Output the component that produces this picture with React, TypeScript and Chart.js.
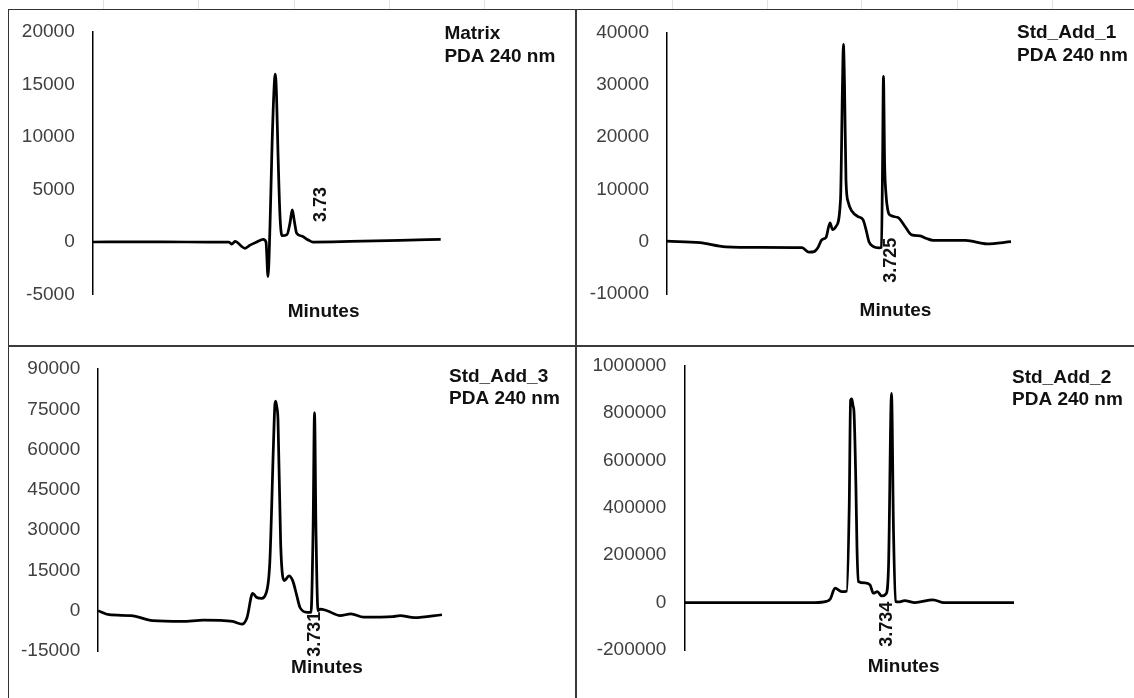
import React, { useEffect, useRef } from "react";
import { Chart, registerables } from "chart.js";
Chart.register(...registerables);

// ---------- DATA ----------
const matrixTime = [0, 0.8, 1.6, 2.319, 2.365, 2.421, 2.591, 2.676, 2.79, 2.902, 2.948, 2.982, 3.016, 3.05, 3.084, 3.106, 3.127, 3.152, 3.186, 3.22, 3.305, 3.356, 3.395, 3.424, 3.47, 3.555, 3.668, 3.748, 4.377, 5.228, 5.92];
const matrixSignal = [0, 20, 0, 0, -200, 50, -600, -300, 0, 250, 0, -3300, 1500, 9000, 14500, 16000, 14000, 8500, 2500, 600, 700, 1800, 3050, 2200, 830, 570, 190, 0, 50, 150, 250];
const matrixTicks = [-5000, 0, 5000, 10000, 15000, 20000];

const add1Time = [0, 0.568, 1.01, 1.6, 2.323, 2.444, 2.53, 2.599, 2.667, 2.736, 2.805, 2.85, 2.908, 2.986, 3.02, 3.036, 3.055, 3.08, 3.12, 3.184, 3.287, 3.373, 3.425, 3.476, 3.545, 3.648, 3.69, 3.71, 3.725, 3.745, 3.769, 3.8, 3.85, 3.975, 4.096, 4.211, 4.354, 4.469, 4.578, 5.14, 5.507, 5.92];
const add1Signal = [100, -200, -1000, -1100, -1150, -2000, -1900, -1100, 400, 800, 3600, 2300, 2900, 8000, 30000, 37700, 30000, 11800, 7500, 5800, 4800, 4200, 2300, 0, -900, -1200, -1100, 15000, 31600, 15000, 9000, 6000, 5000, 4600, 2900, 1300, 1100, 600, 250, 250, -400, 0];
const add1Ticks = [-10000, 0, 10000, 20000, 30000, 40000];

const add3Time = [0, 0.186, 0.565, 0.938, 1.443, 1.815, 2.316, 2.473, 2.562, 2.66, 2.724, 2.817, 2.881, 2.955, 3.018, 3.04, 3.055, 3.075, 3.096, 3.142, 3.206, 3.285, 3.349, 3.413, 3.475, 3.6, 3.664, 3.7, 3.725, 3.75, 3.785, 3.819, 3.94, 4.164, 4.353, 4.57, 5.071, 5.197, 5.446, 5.92];
const add3Signal = [0, -1500, -1800, -3700, -4000, -3500, -4000, -5000, -2600, 6500, 5000, 4600, 6000, 18000, 62000, 76000, 78000, 76000, 71000, 24800, 11200, 13000, 11200, 6200, 1200, -600, -600, 30000, 73800, 30000, 0, 600, 0, -1800, -1200, -2400, -2200, -1800, -2600, -1500];
const add3Ticks = [-15000, 0, 15000, 30000, 45000, 60000, 75000, 90000];

const add2Time = [0, 1.0, 2.0, 2.339, 2.55, 2.62, 2.705, 2.825, 2.915, 2.96, 2.985, 3.005, 3.03, 3.046, 3.08, 3.1, 3.123, 3.244, 3.334, 3.393, 3.465, 3.544, 3.621, 3.666, 3.72, 3.756, 3.792, 3.85, 3.953, 4.142, 4.465, 4.663, 5.92];
const add2Signal = [0, 0, 0, 0, 5000, 15000, 61000, 46000, 48000, 400000, 855000, 860000, 830000, 806000, 500000, 230000, 89000, 83000, 74700, 40000, 46000, 28000, 37000, 150000, 883000, 300000, 5000, 3000, 8000, 0, 12000, 0, 0];
const add2Ticks = [-200000, 0, 200000, 400000, 600000, 800000, 1000000];

const titleMatrix = ["Matrix", "PDA 240 nm"];
const titleAdd1 = ["Std_Add_1", "PDA 240 nm"];
const titleAdd3 = ["Std_Add_3", "PDA 240 nm"];
const titleAdd2 = ["Std_Add_2", "PDA 240 nm"];
const xAxisTitle = "Minutes";

// ---------- LAYOUT ----------
const FONT = '"Liberation Sans", Arial, Helvetica, sans-serif';

type Ann = { x: number; y: number; text: string; dx: number; dy: number; align: CanvasTextAlign };
type Panel = {
  left: number; top: number; w: number; h: number;
  area: { left: number; top: number; right: number; bottom: number };
  time: number[]; signal: number[]; ticks: number[];
  title: string[]; titleX: number; titleY: number[];
  xTitleX: number; xTitleY: number;
  ann: Ann;
};

const panels: Panel[] = [
  {
    left: 9, top: 10, w: 566, h: 335,
    area: { left: 92.7, top: 32, right: 440.7, bottom: 294.5 },
    time: matrixTime, signal: matrixSignal, ticks: matrixTicks,
    title: titleMatrix, titleX: 444.4, titleY: [33.3, 56.7],
    xTitleX: 323.6, xTitleY: 311.7,
    ann: { x: 3.73, y: 0, text: "3.73", dx: 9, dy: -20, align: "left" },
  },
  {
    left: 577, top: 10, w: 557, h: 335,
    area: { left: 667, top: 32.3, right: 1011, bottom: 294 },
    time: add1Time, signal: add1Signal, ticks: add1Ticks,
    title: titleAdd1, titleX: 1017, titleY: [33, 56],
    xTitleX: 895.5, xTitleY: 311,
    ann: { x: 3.725, y: 0, text: "3.725", dx: 7.5, dy: -4, align: "right" },
  },
  {
    left: 9, top: 347, w: 566, h: 351,
    area: { left: 98.2, top: 369, right: 442, bottom: 651 },
    time: add3Time, signal: add3Signal, ticks: add3Ticks,
    title: titleAdd3, titleX: 449, titleY: [376.7, 398.3],
    xTitleX: 327, xTitleY: 668,
    ann: { x: 3.731, y: 0, text: "3.731", dx: 0, dy: 1, align: "right" },
  },
  {
    left: 577, top: 347, w: 557, h: 351,
    area: { left: 684.4, top: 365.7, right: 1014, bottom: 650 },
    time: add2Time, signal: add2Signal, ticks: add2Ticks,
    title: titleAdd2, titleX: 1012, titleY: [377.7, 400],
    xTitleX: 903.6, xTitleY: 666.7,
    ann: { x: 3.734, y: 0, text: "3.734", dx: -5, dy: -1, align: "right" },
  },
];

function ChromPanel({ p }: { p: Panel }) {
  const ref = useRef<HTMLCanvasElement>(null);
  useEffect(() => {
    const canvas = ref.current;
    if (!canvas) return;
    const aLeft = p.area.left - p.left;
    const aTop = p.area.top - p.top;
    const aRight = p.area.right - p.left;
    const aBottom = p.area.bottom - p.top;

    const textPlugin = {
      id: "panelText",
      afterDatasetsDraw(chart: any) {
        const ctx = chart.ctx as CanvasRenderingContext2D;
        ctx.save();
        ctx.fillStyle = "#111111";
        ctx.font = `bold 19px ${FONT}`;
        ctx.textAlign = "left";
        ctx.textBaseline = "middle";
        p.title.forEach((line, i) => {
          ctx.fillText(line, p.titleX - p.left, p.titleY[i] - p.top);
        });
        ctx.textAlign = "center";
        ctx.fillText(xAxisTitle, p.xTitleX - p.left, p.xTitleY - p.top);

        const xs = chart.scales.x;
        const ys = chart.scales.y;
        const px = xs.getPixelForValue(p.ann.x) + p.ann.dx;
        const py = ys.getPixelForValue(p.ann.y) + p.ann.dy;
        ctx.translate(px, py);
        ctx.rotate(-Math.PI / 2);
        ctx.font = `bold 18px ${FONT}`;
        ctx.textAlign = p.ann.align;
        ctx.textBaseline = "middle";
        ctx.fillText(p.ann.text, 0, 0);
        ctx.restore();
      },
    };

    const chart = new Chart(canvas, {
      type: "line",
      data: {
        datasets: [
          {
            data: p.time.map((t, i) => ({ x: t, y: p.signal[i] })),
            borderColor: "#000000",
            borderWidth: 2.75,
            pointRadius: 0,
            cubicInterpolationMode: "monotone",
            fill: false,
            clip: false as any,
          },
        ],
      },
      options: {
        responsive: false,
        animation: false,
        devicePixelRatio: 1,
        events: [],
        layout: {
          autoPadding: false,
          padding: { left: 0, top: aTop, right: p.w - aRight, bottom: p.h - aBottom },
        },
        plugins: { legend: { display: false }, tooltip: { enabled: false } },
        scales: {
          x: {
            type: "linear",
            display: false,
            min: p.time[0],
            max: p.time[p.time.length - 1],
          },
          y: {
            type: "linear",
            min: p.ticks[0],
            max: p.ticks[p.ticks.length - 1],
            grid: {
              display: true,
              drawOnChartArea: false,
              drawTicks: true,
              tickLength: 18,
              color: "rgba(0,0,0,0)",
              tickColor: "rgba(0,0,0,0)",
            },
            border: { display: true, color: "#000000", width: 1.5 },
            ticks: {
              font: { family: FONT, size: 19 },
              color: "#404040",
              padding: 0,
              callback: (v: any) => String(v),
            },
            afterBuildTicks: (s: any) => {
              s.ticks = p.ticks.map((v) => ({ value: v }));
            },
            afterFit: (s: any) => {
              s.width = aLeft;
            },
          } as any,
        },
      } as any,
      plugins: [textPlugin],
    });
    return () => chart.destroy();
  }, [p]);
  return (
    <canvas
      ref={ref}
      width={p.w}
      height={p.h}
      style={{ position: "absolute", left: p.left, top: p.top, width: p.w, height: p.h }}
    />
  );
}

const colGrid = [103, 198, 294, 389, 484, 672, 767, 861, 957, 1052];

export default function App() {
  return (
    <div
      style={{
        position: "absolute",
        left: 0,
        top: 0,
        width: 1134,
        height: 698,
        background: "#ffffff",
        overflow: "hidden",
      }}
    >
      {colGrid.map((x) => (
        <div key={x} style={{ position: "absolute", left: x, top: 0, width: 1, height: 9, background: "#e2e2e2" }} />
      ))}
      {panels.map((p, i) => (
        <ChromPanel key={i} p={p} />
      ))}
      <div style={{ position: "absolute", left: 8, top: 9, width: 1126, height: 1, background: "#333" }} />
      <div style={{ position: "absolute", left: 8, top: 9, width: 1, height: 689, background: "#333" }} />
      <div style={{ position: "absolute", left: 575, top: 9, width: 2, height: 689, background: "#3a3a3a" }} />
      <div style={{ position: "absolute", left: 8, top: 345, width: 1126, height: 2, background: "#3a3a3a" }} />
    </div>
  );
}
